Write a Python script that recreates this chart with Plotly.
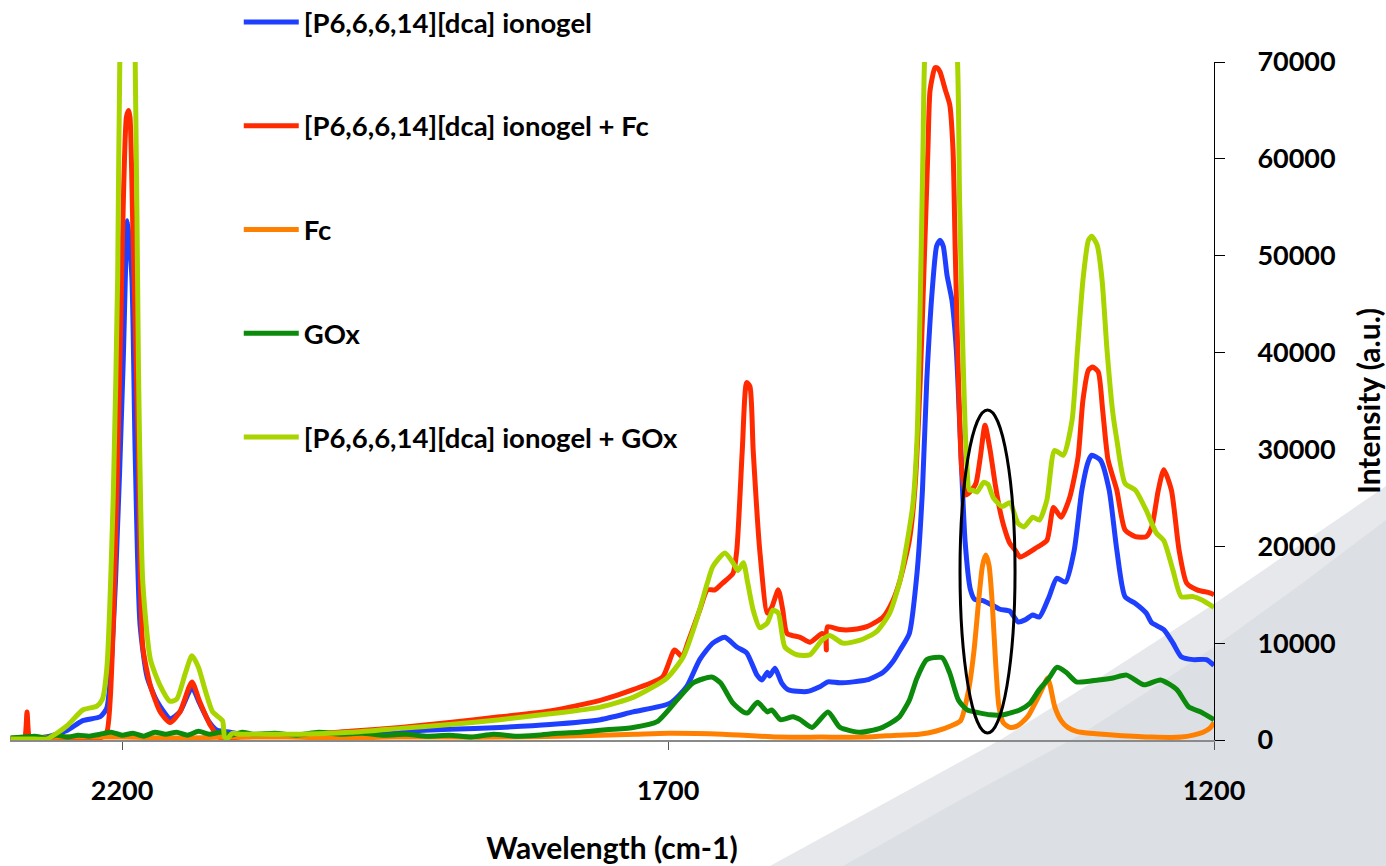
import plotly.graph_objects as go

# ---------------- data ----------------
series_names = [
    "[P6,6,6,14][dca] ionogel",
    "[P6,6,6,14][dca] ionogel + Fc",
    "Fc",
    "GOx",
    "[P6,6,6,14][dca] ionogel + GOx",
]

wn_ionogel = [2302, 2280, 2266, 2250, 2236, 2220, 2214, 2206, 2199, 2195, 2191, 2188, 2183.5, 2177, 2168, 2156,
              2147, 2136, 2129, 2121, 2113, 2101, 2092, 2064, 2037, 1991, 1945, 1900, 1854, 1808, 1762, 1732,
              1698, 1683, 1671, 1659, 1648, 1637, 1628, 1618.5, 1614, 1609, 1607, 1602, 1596, 1590, 1573, 1561,
              1553.5, 1542.5, 1518, 1503, 1494, 1487.5, 1479, 1472, 1467, 1463, 1458, 1454, 1451, 1448, 1444.5,
              1440, 1436, 1432.6, 1428, 1423, 1419, 1411.5, 1396, 1387, 1379.5, 1373, 1366, 1360, 1351, 1344,
              1336, 1328, 1321, 1315, 1312, 1304, 1296, 1289, 1281.5, 1272, 1262, 1257, 1246, 1237.5, 1230,
              1219, 1207, 1200]
int_ionogel = [100, 200, 400, 1000, 2000, 2400, 3300, 16300, 38800, 53600, 47800, 29800, 11900, 6500, 4000, 2200,
               2900, 5400, 3800, 2000, 1000, 800, 600, 400, 400, 700, 900, 1100, 1300, 1600, 2100, 2900,
               3800, 5500, 8300, 10000, 10600, 9600, 9000, 6700, 6200, 7000, 6600, 7400, 5900, 5200, 5000, 5500,
               6000, 5900, 6200, 7000, 8100, 9300, 11000, 17200, 25800, 37200, 46500, 51000, 51600, 51000, 48000,
               45400, 40300, 32000, 20600, 15500, 14500, 14400, 13500, 13300, 12200, 12400, 12900, 12700, 14800, 16700,
               16300, 19600, 25800, 28800, 29400, 28900, 25800, 19600, 14800, 14100, 13100, 12100, 11400, 10000, 8600,
               8300, 8300, 7700]

wn_ionogel_fc = [2302, 2292, 2289, 2287, 2285, 2282, 2250, 2220, 2214, 2208, 2202, 2196, 2194, 2192.7, 2190, 2185,
                 2181, 2174, 2165, 2156, 2147, 2136, 2129, 2119, 2110, 2092, 2064, 2037, 1991, 1945, 1900, 1854,
                 1808, 1762, 1732, 1705, 1694, 1687, 1682, 1671, 1664, 1657, 1650, 1640.5, 1637, 1632, 1628, 1625,
                 1622, 1616, 1609, 1605, 1599, 1595, 1591, 1579, 1570, 1559, 1556, 1555, 1554, 1542.5, 1531, 1518,
                 1503, 1494, 1487.5, 1479, 1474, 1469, 1465, 1462, 1460, 1455.5, 1453.6, 1451, 1446, 1442, 1439,
                 1437, 1434, 1431, 1427, 1422, 1418, 1414, 1409.7, 1405, 1400.5, 1396, 1391.5, 1387, 1382, 1377.6,
                 1362, 1353, 1347, 1340, 1332, 1324.5, 1320, 1315, 1311, 1306, 1302, 1297, 1289, 1281.5, 1272,
                 1262, 1257, 1251, 1246, 1239, 1232, 1225, 1215.5, 1204, 1200]
int_ionogel_fc = [100, 100, 300, 2900, 300, 100, 100, 200, 800, 11900, 38800, 64300, 65000, 64300, 52200, 29800,
                  9600, 5600, 2900, 1800, 2900, 6000, 4000, 1500, 200, 300, 400, 500, 900, 1300, 1800, 2400,
                  3000, 4100, 5200, 6500, 9300, 8600, 10000, 13400, 15500, 15500, 16200, 17200, 19600, 29900, 36900, 36500,
                  29900, 19600, 13100, 13700, 15500, 13500, 11000, 10600, 10100, 11000, 10800, 9300, 11700, 11400, 11400, 11700,
                  12700, 14400, 16500, 20600, 25800, 37200, 50600, 60900, 67100, 69400, 69400, 69000, 67100, 65600, 60900,
                  50600, 37200, 27900, 25300, 25800, 26500, 29200, 32500, 29900, 26500, 23700, 21700, 20300, 19600, 18900,
                  19900, 20600, 24000, 23000, 25100, 29200, 35100, 38200, 38500, 38000, 34100, 28900, 25800, 21700, 21000,
                  21000, 22000, 25800, 27900, 25800, 19600, 16200, 15500, 15200, 15000]

wn_fc = [2302, 2250, 2200, 2150, 2100, 2050, 2000, 1950, 1900, 1850, 1800, 1762, 1730, 1700, 1650, 1600, 1560,
         1520, 1490, 1470, 1455, 1440, 1432, 1425, 1420, 1415, 1412, 1409, 1406, 1403, 1400, 1397, 1393, 1387,
         1381, 1376, 1370, 1362, 1356, 1352.5, 1350, 1346, 1340, 1334, 1326, 1314, 1290, 1257, 1230, 1219, 1210,
         1204, 1200]
int_fc = [200, 300, 300, 200, 300, 300, 200, 300, 300, 300, 400, 500, 600, 700, 600, 300, 300,
          300, 500, 600, 900, 1500, 2000, 5000, 9000, 15000, 18000, 19100, 18000, 14000, 8000, 3500, 1800, 1300,
          1400, 1800, 2500, 4200, 5600, 6400, 5600, 3500, 2000, 1300, 900, 700, 500, 300, 300, 500, 800,
          1200, 1800]

wn_gox = [2302, 2290, 2280, 2270, 2260, 2250, 2240, 2230, 2220, 2210, 2200, 2190, 2180, 2170, 2160, 2150, 2140,
          2130, 2120, 2110, 2100, 2090, 2080, 2060, 2040, 2020, 2000, 1980, 1960, 1940, 1920, 1900, 1880, 1860,
          1840, 1820, 1800, 1780, 1762, 1732, 1710, 1692, 1677, 1660, 1652, 1640.5, 1631, 1627, 1618, 1609, 1605,
          1597, 1585.5, 1579, 1568, 1553.5, 1542.5, 1524, 1506, 1494, 1488, 1479, 1472, 1463, 1449, 1442, 1434,
          1426, 1415, 1405, 1393, 1378, 1368.5, 1360, 1351, 1344, 1335.5, 1326, 1306, 1292.5, 1280, 1264, 1249,
          1234, 1223, 1212, 1200]
int_gox = [200, 300, 400, 200, 500, 300, 500, 400, 600, 800, 500, 700, 400, 800, 600, 800, 500,
           900, 600, 800, 500, 800, 600, 700, 500, 800, 600, 700, 500, 600, 400, 500, 300, 600,
           400, 500, 700, 800, 1000, 1300, 1900, 4100, 5900, 6500, 5900, 3800, 2900, 2800, 3900, 2900, 3100,
           2100, 2400, 2100, 1300, 2900, 1300, 800, 1200, 1900, 2400, 4100, 6400, 8300, 8500, 6900, 4100,
           3100, 2800, 2600, 2600, 3100, 3800, 5200, 6400, 7500, 7000, 6000, 6200, 6400, 6700, 5700, 6200,
           5200, 3400, 2900, 2100]

wn_ionogel_gox = [2302, 2280, 2269, 2250, 2236, 2223, 2218, 2214, 2208, 2204, 2202, 2195, 2188, 2185, 2181, 2174,
                  2165, 2156, 2150, 2142, 2136, 2130, 2124, 2117, 2108, 2106, 2103, 2099, 2092, 2064, 2037, 1991,
                  1945, 1900, 1854, 1808, 1762, 1732, 1701, 1686, 1673, 1664, 1659, 1648, 1640.5, 1636, 1631, 1627,
                  1622, 1616, 1609, 1604, 1599, 1593, 1582, 1570, 1559, 1552, 1540, 1524, 1509, 1497, 1487.5, 1476,
                  1472, 1469, 1466.5, 1465, 1451, 1435, 1433, 1430, 1427, 1424, 1421.6, 1417, 1411, 1407, 1402, 1394,
                  1387, 1379.5, 1374, 1366, 1360, 1353, 1346, 1338, 1330, 1325, 1320, 1315, 1312, 1307, 1302.5,
                  1298, 1293, 1289, 1281.5, 1272, 1262, 1253, 1246, 1237.5, 1230, 1219, 1212, 1200]
int_ionogel_gox = [100, 100, 100, 1500, 3100, 3500, 4200, 7300, 25300, 47800, 70500, 95000, 70500, 38800, 16300, 8300,
                   5600, 4000, 4200, 6900, 8700, 7500, 5200, 2900, 2000, 300, 200, 700, 600, 600, 600, 800,
                   1200, 1600, 2100, 2700, 3400, 4400, 6400, 8600, 12700, 16200, 17900, 19300, 18300, 17500, 18300, 16200,
                   13400, 11600, 12100, 13400, 13100, 9600, 8800, 8800, 10300, 10800, 10000, 10300, 11200, 13100, 16500, 24100,
                   31000, 45400, 60900, 70500, 98000, 70500, 55700, 40300, 29900, 25800, 25800, 25600, 26600, 26400, 25000, 24100,
                   24500, 22400, 22000, 23000, 22700, 24800, 29900, 29400, 33000, 40300, 47500, 51600, 52000, 51100, 47500,
                   40300, 34100, 31000, 26500, 25800, 23700, 21400, 20600, 17500, 14800, 14800, 14500, 13700]

x_ticks = [2200, 1700, 1200]
x_range = [2302.6, 1200]
y_range = [0, 70000]
highlight_x = [1432.6, 1382.2]   # ellipse around the Fc band
highlight_y = [720, 34070]

# ---------------- styling ----------------
colors = ["#1f3fff", "#ff2a00", "#ff8000", "#0b8a0b", "#a8d400"]
data_x = [wn_ionogel, wn_ionogel_fc, wn_fc, wn_gox, wn_ionogel_gox]
data_y = [int_ionogel, int_ionogel_fc, int_fc, int_gox, int_ionogel_gox]

FONT = "Lato"
W, H = 1386, 866
L, R, T, B = 10, 172, 62, 126
PW, PH = W - L - R, H - T - B


def to_paper(px, py):
    return (px - L) / PW, (H - B - py) / PH


def band_path(points):
    pts = [to_paper(px, py) for px, py in points]
    pts += [to_paper(W + 20, H + 20), ]
    s = "M %.4f,%.4f " % to_paper(points[0][0], H + 20)
    for p in pts:
        s += "L %.4f,%.4f " % p
    return s + "Z"


# decorative slide-background swoosh (pixel outline of the two grey bands)
light_edge = [(770, 866), (885, 803), (1000, 740), (1107, 673), (1214, 604), (1300, 545), (1386, 486), (1406, 472)]
dark_edge = [(843, 866), (960, 800), (1080, 735), (1150, 690), (1214, 647), (1300, 585), (1386, 520), (1406, 505)]

fig = go.Figure()
for name, xs, ys, c in zip(series_names, data_x, data_y, colors):
    fig.add_trace(go.Scatter(
        x=xs, y=ys, mode="lines", name=name, legendgroup=name,
        line=dict(color=c, width=5, shape="spline", smoothing=0.6),
    ))

fig.add_shape(type="path", xref="paper", yref="paper", path=band_path(light_edge),
              fillcolor="#e6e8eb", line=dict(width=0), layer="below")
fig.add_shape(type="path", xref="paper", yref="paper", path=band_path(dark_edge),
              fillcolor="#dcdfe4", line=dict(width=0), layer="below")
fig.add_shape(type="circle", xref="x", yref="y",
              x0=highlight_x[0], x1=highlight_x[1], y0=highlight_y[0], y1=highlight_y[1],
              line=dict(color="black", width=3))

fig.update_layout(
    width=W, height=H,
    margin=dict(l=L, r=R, t=T, b=B, autoexpand=False),
    paper_bgcolor="white", plot_bgcolor="rgba(0,0,0,0)",
    font=dict(family=FONT, color="black"),
    legend=dict(
        x=0.190, y=1.095, xanchor="left", yanchor="top", maxheight=900,
        bgcolor="rgba(0,0,0,0)", tracegroupgap=65, itemwidth=55,
        font=dict(family=FONT, size=27.5, weight="bold", color="black"),
    ),
    xaxis=dict(
        range=x_range, tickvals=x_ticks, ticks="outside", ticklen=8, tickcolor="#555",
        showline=True, linecolor="#8a8a8a", linewidth=2, showgrid=False, zeroline=False,
        tickfont=dict(family=FONT, size=27, weight="bold"), ticklabelstandoff=18,
        title=dict(text="Wavelength (cm-1)", font=dict(family=FONT, size=30, weight="bold"), standoff=33),
    ),
    yaxis=dict(
        side="right", range=y_range, dtick=10000, tickformat="d", ticks="outside", ticklen=10,
        tickcolor="black", showline=True, linecolor="black", linewidth=1, showgrid=False, zeroline=False,
        tickfont=dict(family=FONT, size=27, weight="bold"), ticklabelstandoff=27,
        title=dict(text="Intensity (a.u.)", font=dict(family=FONT, size=30, weight="bold"), standoff=30),
    ),
)

fig.write_html("out.html", config={"displayModeBar": False},
               post_script="document.body.style.margin='0';")
